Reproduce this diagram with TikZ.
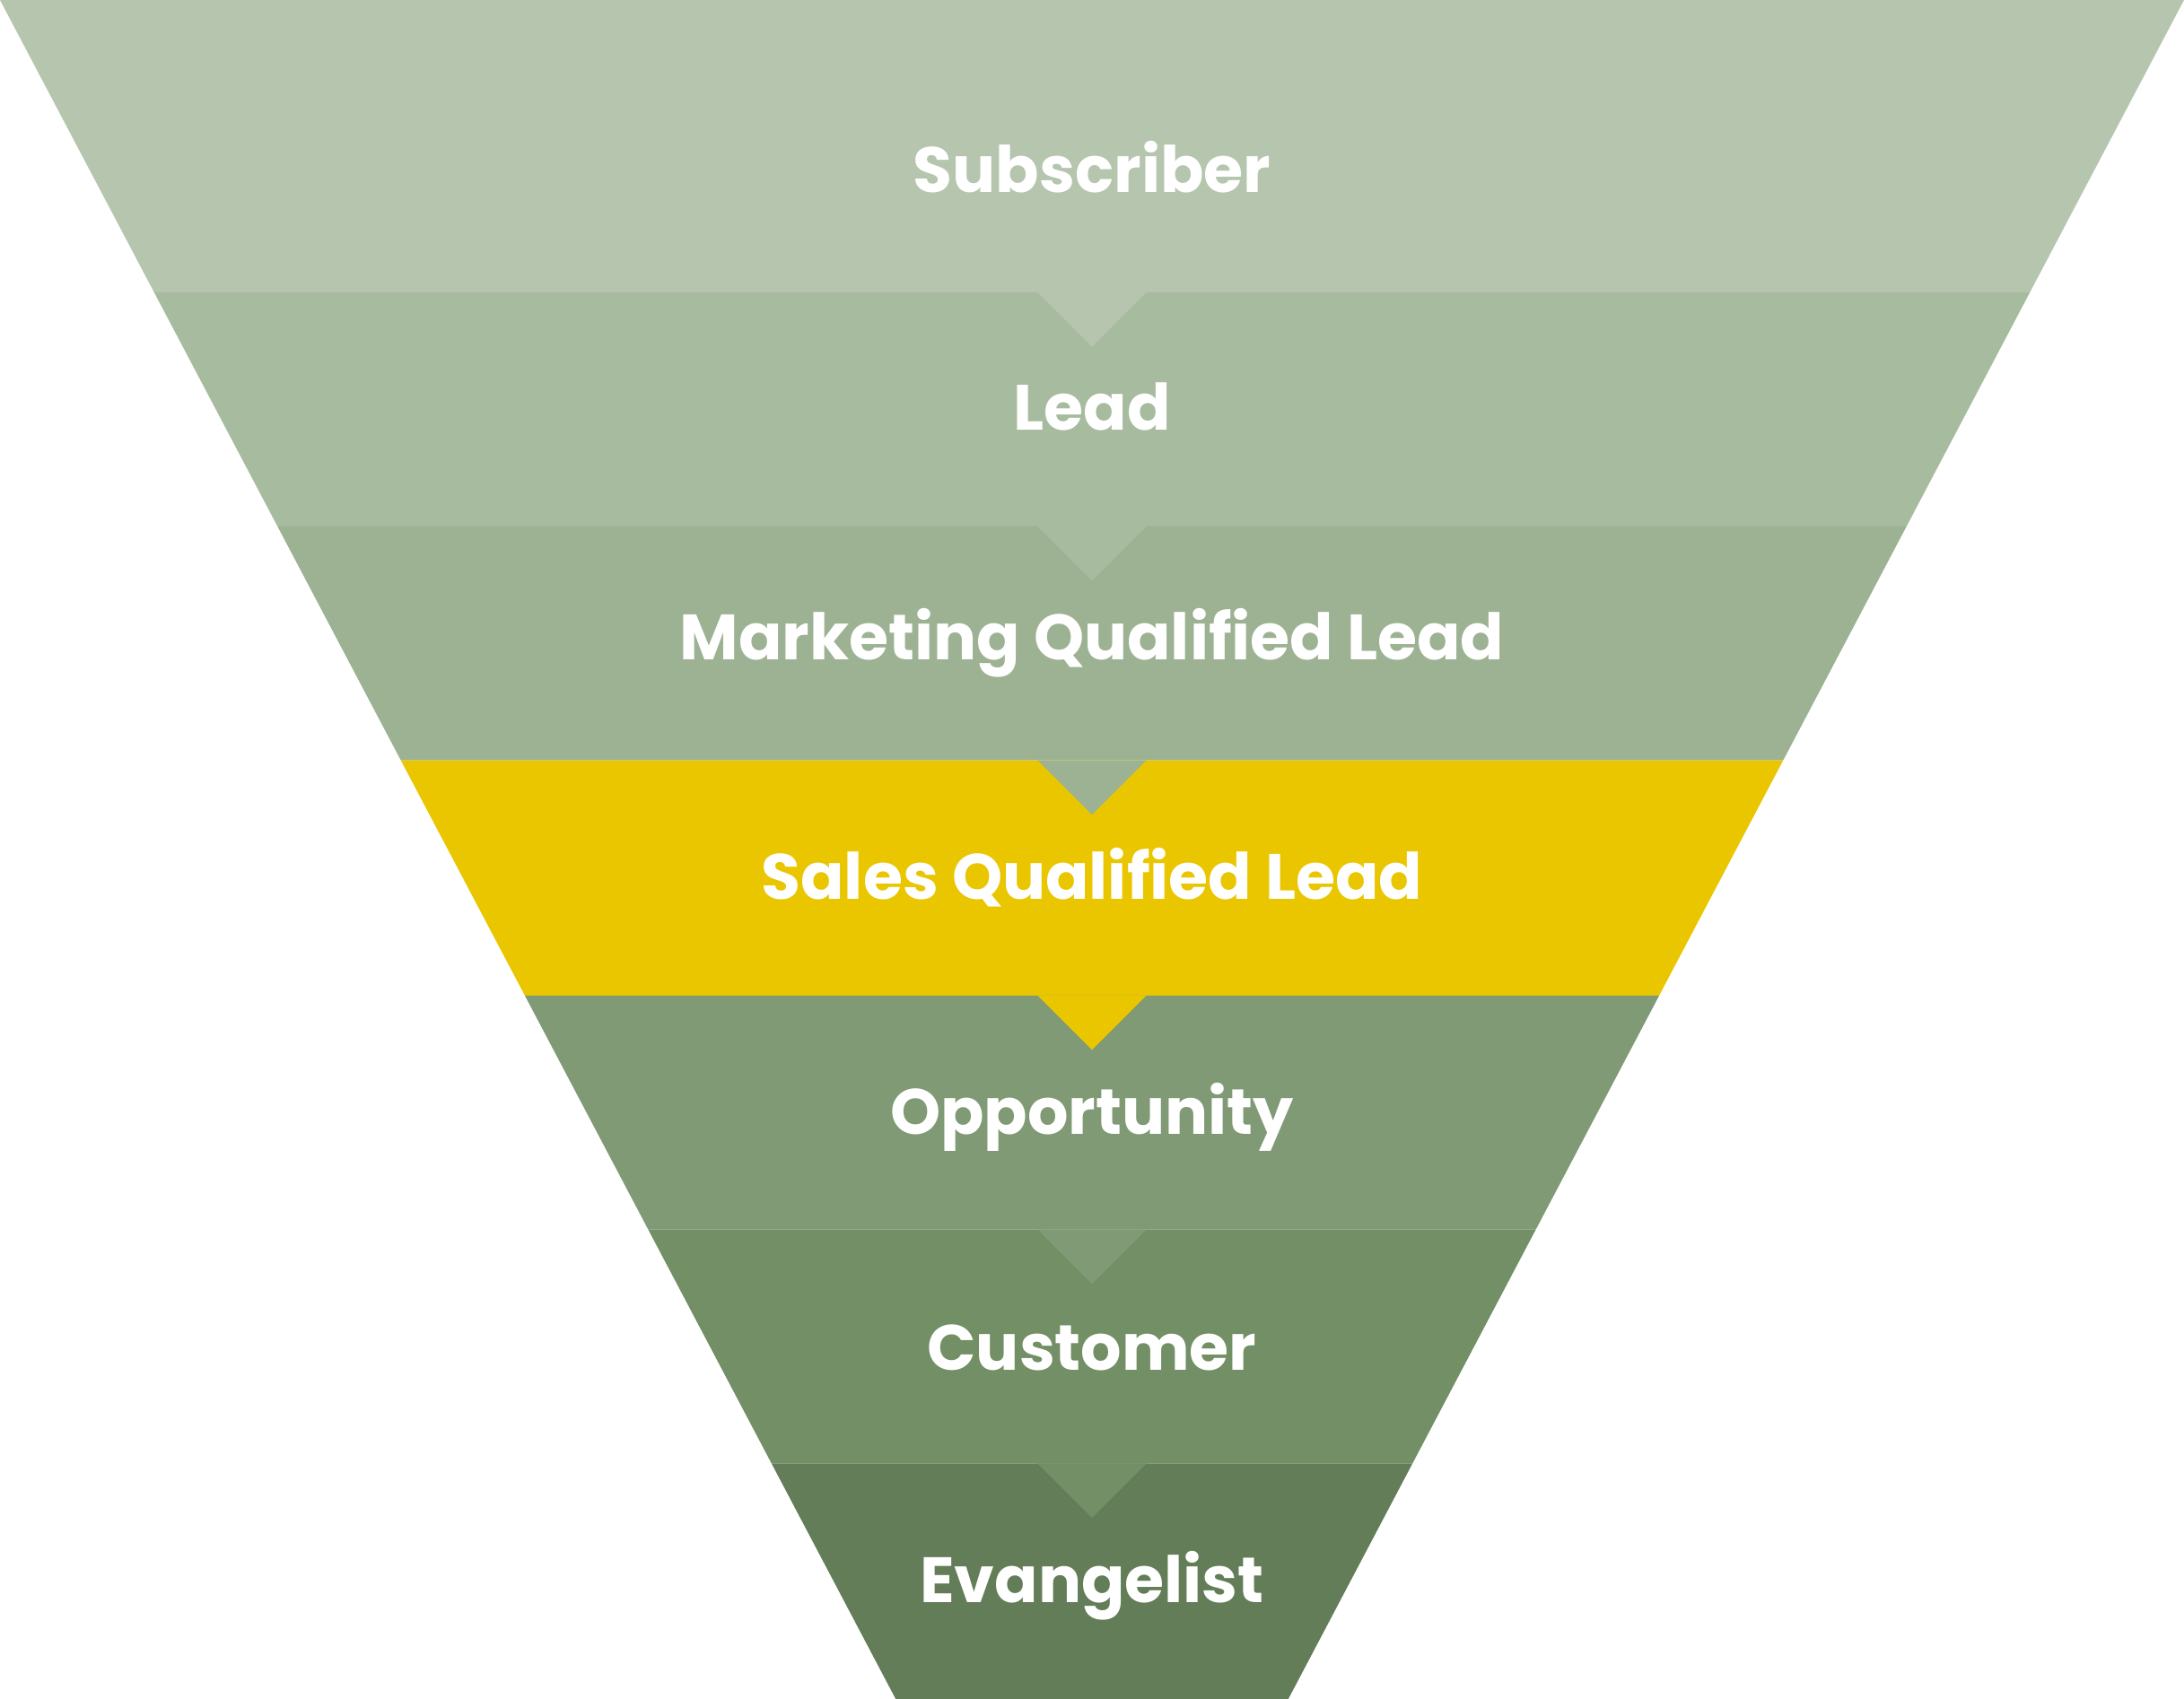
\documentclass[tikz,border=0pt]{standalone}
\usepackage{fontspec}
\setmainfont{Poppins}
\definecolor{c1}{HTML}{B5C5AE}
\definecolor{c2}{HTML}{A7BB9E}
\definecolor{c3}{HTML}{9CB293}
\definecolor{c4}{HTML}{E9C600}
\definecolor{c5}{HTML}{7F9A75}
\definecolor{c6}{HTML}{728F66}
\definecolor{c7}{HTML}{637D58}
\begin{document}
\begin{tikzpicture}[x=1pt,y=-1pt,
  lbl/.style={text=white,font=\fontsize{46}{50}\selectfont\bfseries,anchor=center}]
\useasboundingbox (0,0) rectangle (1568,1220);
\def\ys{{0,210,378,546,715,883,1051,1220}}
\foreach \i/\c in {0/c1,1/c2,2/c3,3/c4,4/c5,5/c6,6/c7}{
  \pgfmathsetmacro\ya{\ys[\i]}
  \pgfmathsetmacro\yb{\ys[\i+1]}
  \pgfmathsetmacro\xa{0.527049*\ya}
  \pgfmathsetmacro\xb{0.527049*\yb}
  \fill[\c] (\xa,\ya) -- (1568-\xa,\ya) -- (1568-\xb,\yb) -- (\xb,\yb) -- cycle;
}
\foreach \i/\c in {1/c1,2/c2,3/c3,4/c4,5/c5,6/c6}{
  \pgfmathsetmacro\ya{\ys[\i]}
  \fill[\c] (745,\ya) -- (823,\ya) -- (784,\ya+39) -- cycle;
}
\node[lbl] (s1) at (784,120) {Subscriber};
\node[lbl] (s2) at (784,292) {Lead};
\node[lbl] (s3) at (784,462) {Marketing Qualified Lead};
\node[lbl] (s4) at (784,630) {Sales Qualified Lead};
\node[lbl] (s5) at (784,802) {Opportunity};
\node[lbl] (s6) at (784,968) {Customer};
\node[lbl] (s7) at (784,1139) {Evangelist};
\end{tikzpicture}
\end{document}
